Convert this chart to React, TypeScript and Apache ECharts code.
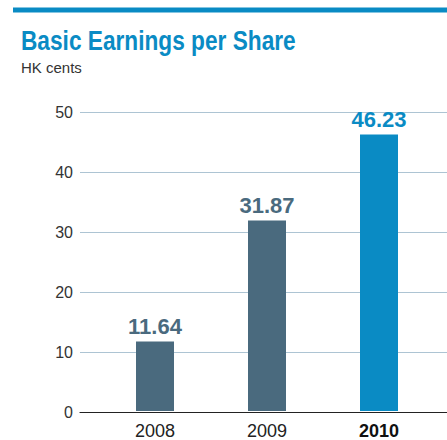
import React, { useEffect, useRef } from "react";
import * as echarts from "echarts";

const years = ["2008", "2009", "2010"];
const eps = [11.64, 31.87, 46.23];
const barColors = ["#4a6a7e", "#4a6a7e", "#0a8bc4"];
const yTicks = { min: 0, max: 50, interval: 10 };

export default function App() {
  const ref = useRef<HTMLDivElement>(null);
  useEffect(() => {
    const chart = echarts.init(ref.current!, null, { renderer: "svg" });
    chart.setOption({
      animation: false,
      graphic: [
        { type: "rect", shape: { x: 13, y: 7.5, width: 434, height: 5 }, style: { fill: "#0a8bc4" } },
        {
          type: "text", x: 21, y: 54, scaleX: 0.84,
          style: {
            text: "Basic Earnings per Share", fill: "#0a8bc4",
            font: "bold 27px 'Liberation Sans', Arial, sans-serif",
            verticalAlign: "bottom",
          },
        },
        {
          type: "text", x: 21, y: 60,
          style: { text: "HK cents", fill: "#333", font: "15px 'Liberation Sans', Arial, sans-serif" },
        },
      ],
      grid: [
        { left: 80, right: 0, top: 112, bottom: 28 },
        { left: 99, width: 336, top: 112, bottom: 28 },
      ],
      xAxis: [
        {
          gridIndex: 0, type: "category", data: [""],
          axisLine: { show: true, lineStyle: { color: "#222", width: 1.2 } },
          axisTick: { show: false }, axisLabel: { show: false },
        },
        {
          gridIndex: 1, type: "category", data: years,
          axisLine: { show: false }, axisTick: { show: false },
          axisLabel: {
            margin: 11, fontSize: 18, color: "#222", fontFamily: "'Liberation Sans', Arial, sans-serif",
            formatter: (v: string, i: number) => (i === years.length - 1 ? `{b|${v}}` : v),
            rich: { b: { fontWeight: "bold", fontSize: 18, color: "#111", fontFamily: "'Liberation Sans', Arial, sans-serif" } },
          },
        },
      ],
      yAxis: [
        {
          gridIndex: 0, type: "value", ...yTicks,
          axisLine: { show: false }, axisTick: { show: false },
          axisLabel: { margin: 7, fontSize: 16, color: "#333", fontFamily: "'Liberation Sans', Arial, sans-serif" },
          splitLine: { lineStyle: { color: "#adc4d3", width: 1 } },
        },
        { gridIndex: 1, type: "value", ...yTicks, show: false, splitLine: { show: false } },
      ],
      series: [
        {
          type: "bar", xAxisIndex: 1, yAxisIndex: 1, barWidth: 38,
          data: eps.map((v, i) => ({
            value: v,
            itemStyle: { color: barColors[i] },
            label: { color: barColors[i] },
          })),
          label: {
            show: true, position: "top", distance: 4, fontSize: 22, fontWeight: "bold",
            fontFamily: "'Liberation Sans', Arial, sans-serif",
            formatter: (p: any) => p.value.toFixed(2),
          },
        },
      ],
    });
    return () => chart.dispose();
  }, []);
  return <div ref={ref} style={{ width: 447, height: 440, position: "absolute", left: 0, top: 0 }} />;
}
